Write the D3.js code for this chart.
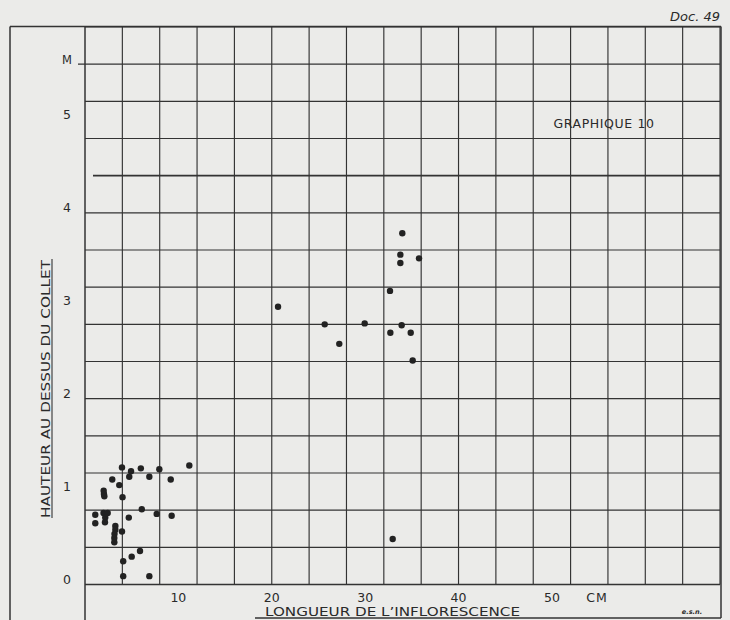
<!DOCTYPE html>
<html>
<head>
<meta charset="utf-8">
<script src="https://cdn.jsdelivr.net/npm/d3@7"></script>
<style>
  html, body { margin: 0; padding: 0; background: #ebebe9; }
  svg { display: block; }
  text { font-family: "DejaVu Sans", sans-serif; fill: #2a2a2a; }
</style>
</head>
<body>
<svg id="chart" width="730" height="620"></svg>
<script>
// Data: length of inflorescence (cm) and height above the collar (m)
const lengthCm = [
  3.96, 4.93, 4.74, 5.98, 6.89, 7.96, 11.17, 2.92, 3.67, 9.18,
  2.00, 2.03, 2.07, 4.02, 1.10, 1.10, 1.98, 2.43, 2.17, 2.14,
  6.08, 4.69, 7.68, 9.28, 3.25, 3.25, 3.16, 3.14, 3.14, 3.96,
  5.89, 5.00, 4.09, 4.09, 6.89,
  33.98, 33.77, 33.77, 35.77, 32.66, 20.67, 25.67, 29.95, 33.91, 32.70,
  34.88, 27.23, 35.09, 32.95
];
const heightM = [
  1.26, 1.22, 1.16, 1.25, 1.16, 1.24, 1.28, 1.13, 1.07, 1.13,
  1.01, 0.975, 0.95, 0.94, 0.75, 0.66, 0.77, 0.77, 0.72, 0.67,
  0.81, 0.72, 0.76, 0.74, 0.63, 0.59, 0.545, 0.50, 0.455, 0.57,
  0.36, 0.30, 0.25, 0.09, 0.09,
  3.78, 3.55, 3.46, 3.51, 3.16, 2.99, 2.80, 2.81, 2.79, 2.71,
  2.71, 2.59, 2.41, 0.49
];
const xTickLabels = [10, 20, 30, 40, 50];
const yTickLabels = [0, 1, 2, 3, 4, 5];
const xGridStep = 4;    // cm per cell
const yGridStep = 0.4;  // m per cell

const svg = d3.select("#chart");
const x = d3.scaleLinear().domain([0, 68]).range([85, 720]);
const y = d3.scaleLinear().domain([0, 6]).range([584.5, 27]);
const ink = "#333";

// outer frame
svg.append("line").attr("x1", 10).attr("x2", 10).attr("y1", 26.5).attr("y2", 620)
  .attr("stroke", ink).attr("stroke-width", 1.5);
svg.append("line").attr("x1", 10).attr("x2", 721).attr("y1", 26.5).attr("y2", 26.5)
  .attr("stroke", ink).attr("stroke-width", 1.5);
svg.append("line").attr("x1", 721).attr("x2", 721).attr("y1", 26.5).attr("y2", 618)
  .attr("stroke", ink).attr("stroke-width", 1.5);
svg.append("line").attr("x1", 255).attr("x2", 721).attr("y1", 618).attr("y2", 618)
  .attr("stroke", ink).attr("stroke-width", 1.6);

// grid
const g = svg.append("g");
const xGrid = d3.range(0, 18).map(i => i * xGridStep);
const yGrid = d3.range(0, 16).map(i => +(i * yGridStep).toFixed(2));

g.selectAll(".vg").data(xGrid).join("line")
  .attr("x1", d => x(d)).attr("x2", d => x(d))
  .attr("y1", y(6))
  .attr("y2", d => d === 0 ? 620 : y(0))
  .attr("stroke", ink)
  .attr("stroke-width", d => d === 0 ? 1.5 : 1.15);

g.selectAll(".hg").data(yGrid).join("line")
  .attr("x1", d => d === 5.6 ? 78 : (d === 4.4 ? 93 : x(0)))
  .attr("x2", x(68))
  .attr("y1", d => y(d)).attr("y2", d => y(d))
  .attr("stroke", ink)
  .attr("stroke-width", d => d === 0 ? 1.5 : (d === 4.4 ? 1.6 : 1.15));

// axis tick labels
svg.selectAll(".xt").data(xTickLabels).join("text")
  .attr("x", d => x(d)).attr("y", 602)
  .attr("text-anchor", "middle").attr("font-size", 12.5)
  .text(d => d);
svg.append("text").attr("x", 597).attr("y", 602).attr("text-anchor", "middle")
  .attr("font-size", 12.5).attr("letter-spacing", 1).text("CM");

svg.selectAll(".yt").data(yTickLabels).join("text")
  .attr("x", 67).attr("y", d => y(d) - 1)
  .attr("text-anchor", "middle").attr("font-size", 12.5)
  .text(d => d);
svg.append("text").attr("x", 67).attr("y", y(5.6))
  .attr("text-anchor", "middle").attr("font-size", 11.5).text("M");

// axis titles
svg.append("text").attr("x", 265).attr("y", 616)
  .attr("font-size", 13).attr("textLength", 255).attr("lengthAdjust", "spacingAndGlyphs")
  .text("LONGUEUR DE L\u2019INFLORESCENCE");

const yt = svg.append("g").attr("transform", "translate(50,518) rotate(-90)");
yt.append("text").attr("x", 0).attr("y", 0)
  .attr("font-size", 13).attr("textLength", 258).attr("lengthAdjust", "spacingAndGlyphs")
  .text("HAUTEUR AU DESSUS DU COLLET");
yt.append("line").attr("x1", 0).attr("x2", 259).attr("y1", 2).attr("y2", 2)
  .attr("stroke", ink).attr("stroke-width", 1.1);

// labels
svg.append("text").attr("x", 604).attr("y", 128).attr("text-anchor", "middle")
  .attr("font-size", 12.5).attr("letter-spacing", 0.6).text("GRAPHIQUE 10");
svg.append("text").attr("x", 720).attr("y", 21).attr("text-anchor", "end")
  .attr("font-size", 13).attr("font-style", "italic").attr("font-family", "DejaVu Sans Condensed, DejaVu Sans, sans-serif")
  .text("Doc. 49");
svg.append("text").attr("x", 692).attr("y", 614).attr("text-anchor", "middle")
  .attr("font-size", 6.5).attr("font-style", "italic").attr("font-weight", "bold")
  .text("e.s.n.");

// points
const pts = lengthCm.map((v, i) => ({ x: v, y: heightM[i] }));
svg.selectAll(".pt").data(pts).join("circle")
  .attr("cx", d => x(d.x)).attr("cy", d => y(d.y))
  .attr("r", 3.2).attr("fill", "#222");
</script>
</body>
</html>
